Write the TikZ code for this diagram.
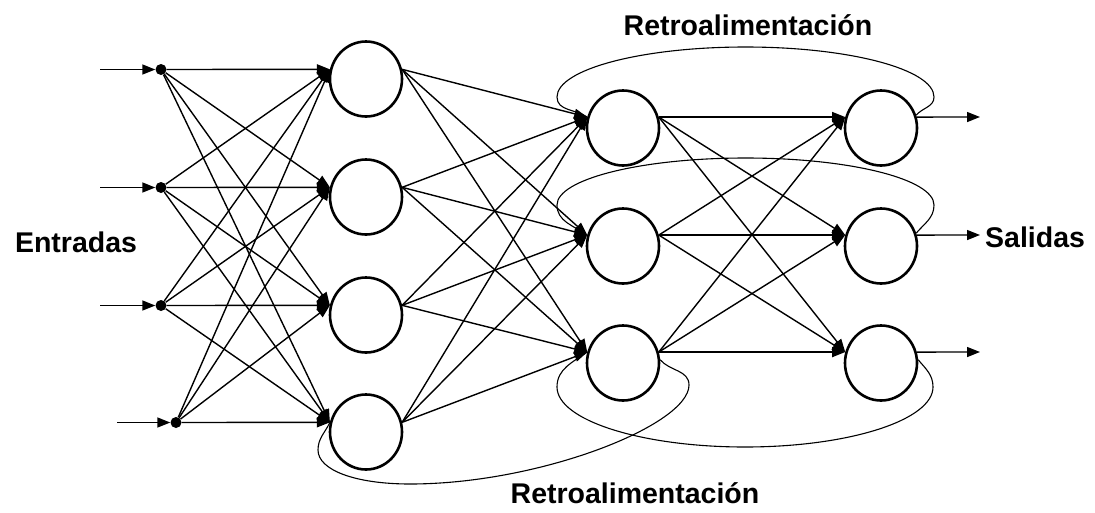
\documentclass[tikz,border=0pt]{standalone}
\usepackage{fontspec}
\setmainfont{Liberation Sans}
\usetikzlibrary{arrows.meta,shapes.geometric}
\begin{document}
\begin{tikzpicture}[x=1pt,y=1pt,
  neuron/.style={ellipse,draw,line width=2.6pt,minimum width=72pt,minimum height=75pt,inner sep=0pt},
  inputdot/.style={circle,fill,inner sep=0pt,minimum size=11pt},
  link/.style={line width=1.4pt,-{Triangle[length=13pt,width=10pt]}},
  loopline/.style={line width=1.1pt},
  lbl/.style={font=\fontsize{28.5}{34}\selectfont\bfseries,inner sep=0pt}]
\useasboundingbox (0,0) rectangle (1095,-512);
\fill[white] (0,0) rectangle (1095,-512);

% input distribution points
\node[inputdot] (x1) at (161,-69.5) {};
\node[inputdot] (x2) at (161,-187.5) {};
\node[inputdot] (x3) at (161,-305.5) {};
\node[inputdot] (x4) at (176,-422.5) {};
\coordinate (s1) at (100,-69.5);
\coordinate (s2) at (100,-187.5);
\coordinate (s3) at (100,-305.5);
\coordinate (s4) at (117,-422.5);

% first layer
\node[neuron] (h1) at (366,-79) {};
\node[neuron] (h2) at (366,-197) {};
\node[neuron] (h3) at (366,-315) {};
\node[neuron] (h4) at (366,-432) {};

% second layer
\node[neuron] (m1) at (623,-128) {};
\node[neuron] (m2) at (623,-246) {};
\node[neuron] (m3) at (623,-363) {};

% output layer
\node[neuron] (y1) at (881,-128) {};
\node[neuron] (y2) at (881,-246) {};
\node[neuron] (y3) at (881,-363) {};

\coordinate (o1) at (980,-117);
\coordinate (o2) at (980,-235);
\coordinate (o3) at (980,-352);

% input arrows
\foreach \i in {1,...,4} \draw[link] (s\i) -- (x\i);

% full connections
\foreach \i in {1,...,4} \foreach \j in {1,...,4} \draw[link] (x\i) -- (h\j.165);
\foreach \i in {1,...,4} \foreach \j in {1,...,3} \draw[link] (h\i.15) -- (m\j.163);
\foreach \i in {1,...,3} \foreach \j in {1,...,3} \draw[link] (m\i.17) -- (y\j.163);
\foreach \i in {1,...,3} \draw[link] (y\i.17) -- (o\i);

% feedback loops
\draw[loopline] (y1.20) to[out=50,in=-90] (934,-97)
  arc[start angle=0,end angle=180,x radius=188.5,y radius=50]
  to[out=-90,in=145] (m1.163);
\draw[loopline] (y2.20) to[out=50,in=-90] (934,-205)
  arc[start angle=0,end angle=180,x radius=188.5,y radius=47]
  to[out=-90,in=145] (m2.163);
\draw[loopline] (y3.5) to[out=-50,in=90] (933,-387)
  arc[start angle=0,end angle=-180,x radius=188,y radius=60]
  to[out=90,in=-145] (m3.163);
\draw[loopline] (m3.5) to[out=-50,in=90] (689,-385)
  .. controls (689,-425) and (540,-484) .. (410,-484)
  .. controls (355,-484) and (318,-470) .. (318,-450)
  to[out=90,in=-115] (h4.165);

% labels
\node[lbl,anchor=base] (tfb) at (748,-35) {Retroalimentación};
\node[lbl,anchor=base] (bfb) at (635,-503) {Retroalimentación};
\node[lbl,anchor=base] (inl) at (76,-252) {Entradas};
\node[lbl,anchor=base west] (outl) at (985,-247) {Salidas};
\end{tikzpicture}
\end{document}
